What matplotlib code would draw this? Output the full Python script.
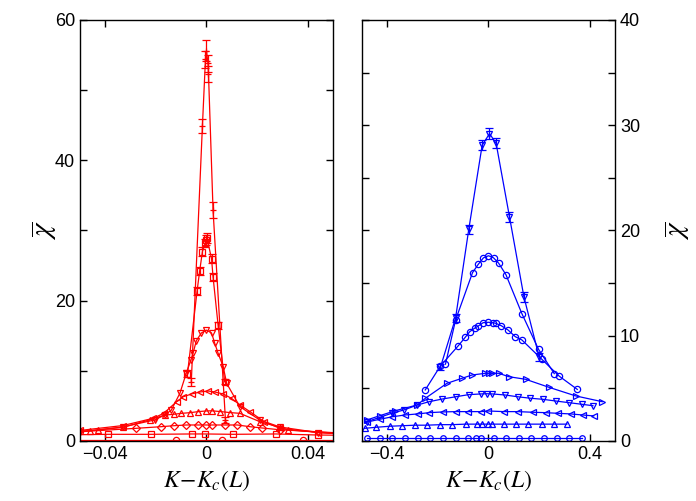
import matplotlib.pyplot as plt
from matplotlib.ticker import FixedLocator

plt.rcParams['mathtext.fontset'] = 'stix'

# ---- left panel (red) ----
x_l0 = [-0.09, -0.012, 0.006, 0.038, 0.09]
y_l0 = [0.15, 0.15, 0.15, 0.15, 0.15]

x_l1 = [-0.07, -0.039, -0.0218, -0.0059, -0.0004, 0.0105, 0.0276, 0.044, 0.07]
y_l1 = [0.8, 0.95, 0.95, 1.0, 1.0, 0.95, 1.0, 0.85, 0.75]

x_l2 = [-0.06, -0.028, -0.0178, -0.0128, -0.0079, -0.0033, 0.0, 0.0023, 0.0072,
        0.0122, 0.0171, 0.022, 0.029, 0.06]
y_l2 = [1.1, 1.8, 2.04, 2.18, 2.28, 2.28, 2.28, 2.28, 2.28, 2.28, 2.04, 1.85, 1.6, 1.0]

x_l3 = [-0.06, -0.046, -0.043, -0.033, -0.0225, -0.0165, -0.013, -0.0099, -0.0066,
        -0.0033, 0.0, 0.002, 0.0053, 0.0092, 0.0132, 0.0211, 0.029, 0.0323, 0.06]
y_l3 = [1.3, 1.47, 1.57, 1.95, 3.0, 3.7, 3.8, 3.94, 4.03, 4.18, 4.28, 4.3, 4.2,
        4.05, 3.94, 2.75, 1.95, 1.57, 0.9]

x_l4 = [-0.06, -0.05, -0.033, -0.0211, -0.0169, -0.0118, -0.0092, -0.0059, -0.0026,
        0.0007, 0.0033, 0.0066, 0.0099, 0.0132, 0.0172, 0.0228, 0.029, 0.044, 0.06]
y_l4 = [1.2, 1.5, 2.2, 3.23, 3.94, 5.6, 6.3, 6.7, 6.98, 7.12, 6.98, 6.7, 6.08,
        5.13, 4.18, 2.75, 1.8, 1.2, 0.9]

x_l5 = [-0.06, -0.05, -0.033, -0.0205, -0.0165, -0.0139, -0.0105, -0.008, -0.0062,
        -0.0053, -0.004, -0.002, 0.0, 0.002, 0.0033, 0.0046, 0.0066, 0.008, 0.0132,
        0.021, 0.029, 0.044, 0.06]
y_l5 = [1.0, 1.3, 2.0, 3.0, 3.7, 4.4, 6.8, 9.65, 11.5, 12.5, 14.3, 15.4, 15.8,
        15.4, 13.9, 12.5, 10.6, 8.2, 4.9, 3.0, 2.0, 1.2, 0.9]

x_l6 = [-0.0075, -0.0037, -0.0027, -0.0016, -0.0005, 0.0, 0.0002, 0.002, 0.0026,
        0.0046, 0.0072]
y_l6 = [9.6, 21.4, 24.2, 27.0, 28.2, 28.6, 28.9, 26.0, 23.4, 16.5, 8.45]
e_l6 = [0.5, 0.6, 0.6, 0.6, 0.6, 0.7, 0.7, 0.6, 0.6, 0.5, 0.4]

x_l7 = [-0.006, -0.0016, -0.0004, 0.0, 0.0006, 0.0008, 0.0026, 0.0075]
y_l7 = [8.4, 44.9, 54.4, 55.6, 53.8, 52.3, 32.9, 3.0]
e_l7 = [0.6, 1.0, 1.2, 1.5, 1.2, 1.1, 1.1, 0.4]

# ---- right panel (blue) ----
x_r0 = [-0.48, -0.43, -0.38, -0.33, -0.28, -0.23, -0.18, -0.13, -0.08, -0.05,
        -0.03, 0.02, 0.07, 0.12, 0.17, 0.22, 0.27, 0.32, 0.37]
y_r0 = [0.3] * 19

x_r1 = [-0.49, -0.445, -0.39, -0.34, -0.29, -0.245, -0.19, -0.146, -0.09, -0.044,
        -0.024, 0.0, 0.012, 0.06, 0.11, 0.158, 0.21, 0.26, 0.31]
y_r1 = [1.2, 1.3, 1.4, 1.45, 1.5, 1.5, 1.55, 1.55, 1.6, 1.6, 1.6, 1.6, 1.6, 1.6,
        1.6, 1.6, 1.6, 1.6, 1.6]

x_r2 = [-0.48, -0.43, -0.38, -0.33, -0.28, -0.235, -0.18, -0.13, -0.08, -0.03, 0.0,
        0.06, 0.115, 0.174, 0.226, 0.273, 0.325, 0.372, 0.416]
y_r2 = [1.8, 2.06, 2.3, 2.47, 2.57, 2.69, 2.76, 2.79, 2.79, 2.79, 2.85, 2.79, 2.79,
        2.73, 2.69, 2.63, 2.57, 2.47, 2.38]

x_r3 = [-0.48, -0.383, -0.334, -0.281, -0.235, -0.182, -0.13, -0.079, -0.03, -0.004,
        0.015, 0.065, 0.116, 0.166, 0.215, 0.265, 0.318, 0.368, 0.413]
y_r3 = [1.84, 2.63, 2.95, 3.42, 3.73, 3.99, 4.2, 4.4, 4.47, 4.49, 4.47, 4.37, 4.2,
        4.06, 3.96, 3.8, 3.64, 3.49, 3.35]

x_r4 = [-0.48, -0.43, -0.368, -0.282, -0.25, -0.164, -0.104, -0.065, -0.012, 0.001,
        0.015, 0.041, 0.08, 0.147, 0.239, 0.345, 0.45]
y_r4 = [2.0, 2.4, 2.88, 3.42, 4.05, 5.48, 5.96, 6.27, 6.43, 6.43, 6.43, 6.43, 6.11,
        5.86, 5.1, 4.28, 3.73]

x_r5 = [-0.25, -0.19, -0.119, -0.092, -0.074, -0.055, -0.04, -0.021, 0.0, 0.016,
        0.029, 0.05, 0.077, 0.106, 0.132, 0.211, 0.279, 0.351]
y_r5 = [4.85, 7.13, 9.06, 9.85, 10.39, 10.71, 10.93, 11.24, 11.28, 11.24, 11.18,
        10.96, 10.55, 9.91, 9.6, 7.76, 6.17, 4.9]

x_r6 = [-0.17, -0.13, -0.063, -0.04, -0.02, 0.0, 0.02, 0.04, 0.069, 0.132, 0.198,
        0.26]
y_r6 = [7.3, 11.5, 16.0, 16.8, 17.4, 17.6, 17.4, 16.9, 15.8, 12.1, 8.7, 6.4]

x_r7 = [-0.19, -0.13, -0.078, -0.025, 0.004, 0.03, 0.083, 0.14, 0.2]
y_r7 = [7.0, 11.7, 20.1, 28.1, 29.2, 28.3, 21.3, 13.7, 8.0]
e_r7 = [0.3, 0.4, 0.4, 0.5, 0.5, 0.5, 0.5, 0.5, 0.4]

RED = '#ff0000'
BLUE = '#0000ff'


def draw(ax, x, y, marker, c, yerr=None, ms=4.5):
    ax.errorbar(x, y, yerr=yerr, color=c, lw=0.9, marker=marker, ms=ms,
                mfc='none', mec=c, mew=0.9, capsize=3, elinewidth=0.9)


def style(ax):
    ax.tick_params(direction='in', top=True, right=True, length=5,
                   width=1, labelsize=13)
    for s in ax.spines.values():
        s.set_linewidth(1)
    for t in ax.get_xticklabels() + ax.get_yticklabels():
        t.set_family('Liberation Sans')


fig = plt.figure(figsize=(6.96, 5.01), dpi=100)
ax1 = fig.add_axes([0.1149, 0.1198, 0.3635, 0.8403])
ax2 = fig.add_axes([0.5201, 0.1198, 0.3635, 0.8403])

draw(ax1, x_l0, y_l0, 'o', RED)
draw(ax1, x_l1, y_l1, 's', RED)
draw(ax1, x_l2, y_l2, 'D', RED, ms=4)
draw(ax1, x_l3, y_l3, '^', RED)
draw(ax1, x_l4, y_l4, '<', RED)
draw(ax1, x_l5, y_l5, 'v', RED)
draw(ax1, x_l6, y_l6, 's', RED, yerr=e_l6)
draw(ax1, x_l7, y_l7, '+', RED, yerr=e_l7)

ax1.set_xlim(-0.05, 0.05)
ax1.set_ylim(0, 60)
ax1.xaxis.set_major_locator(FixedLocator([-0.04, 0, 0.04]))
ax1.set_xticklabels(['\u22120.04', '0', '0.04'])
ax1.set_yticks([0, 10, 20, 30, 40, 50, 60])
ax1.set_yticklabels(['0', '', '20', '', '40', '', '60'])
style(ax1)
ax1.set_xlabel(r'$K\!-\!K_c(L)$', fontsize=17, labelpad=4)
ax1.set_ylabel(r'$\overline{\chi}$', fontsize=21, labelpad=-3)

draw(ax2, x_r0, y_r0, 'o', BLUE, ms=4)
draw(ax2, x_r1, y_r1, '^', BLUE)
draw(ax2, x_r2, y_r2, '<', BLUE)
draw(ax2, x_r3, y_r3, 'v', BLUE)
draw(ax2, x_r4, y_r4, '>', BLUE)
draw(ax2, x_r5, y_r5, 'o', BLUE)
draw(ax2, x_r6, y_r6, 'o', BLUE)
draw(ax2, x_r7, y_r7, 'v', BLUE, yerr=e_r7)

ax2.set_xlim(-0.5, 0.5)
ax2.set_ylim(0, 40)
ax2.set_xticks([-0.4, 0, 0.4])
ax2.set_xticklabels(['\u22120.4', '0', '0.4'])
ax2.set_yticks([0, 5, 10, 15, 20, 25, 30, 35, 40])
ax2.set_yticklabels(['0', '', '10', '', '20', '', '30', '', '40'])
ax2.yaxis.tick_right()
ax2.yaxis.set_label_position('right')
style(ax2)
ax2.tick_params(left=True, labelleft=False, labelright=True)
ax2.set_xlabel(r'$K\!-\!K_c(L)$', fontsize=17, labelpad=4)
ax2.set_ylabel(r'$\overline{\chi}$', fontsize=21, labelpad=16)

fig.savefig('out.png', dpi=100)
